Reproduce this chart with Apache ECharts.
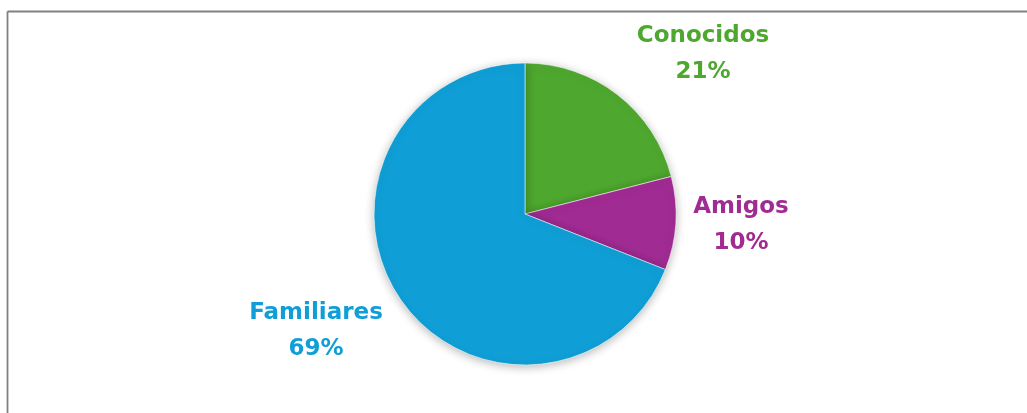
<!DOCTYPE html>
<html>
<head>
<meta charset="utf-8">
<style>
  html, body { margin: 0; padding: 0; background: #ffffff; }
  #chart { width: 1027px; height: 413px; }
</style>
<script src="https://cdn.jsdelivr.net/npm/echarts@6/dist/echarts.min.js"></script>
</head>
<body>
<div id="chart"></div>
<script>
// Share of contacts by relationship type
const categories = ['Conocidos', 'Amigos', 'Familiares'];
const shares = [21, 10, 69];
const colors = ['#4EA72E', '#A02B93', '#0F9ED5'];

// Where each label block sits (pixel centre), by slice order
const labelSpots = [[703, 54], [741, 225], [316, 331]];

const chart = echarts.init(document.getElementById('chart'), null, { renderer: 'canvas' });

chart.setOption({
  backgroundColor: '#ffffff',
  animation: false,
  graphic: [
    { type: 'line', shape: { x1: 7.5, y1: 11.5, x2: 1030, y2: 11.5 }, style: { stroke: '#808080', lineWidth: 1.8 } },
    { type: 'line', shape: { x1: 7.5, y1: 11.5, x2: 7.5, y2: 420 }, style: { stroke: '#808080', lineWidth: 1.8 } }
  ],
  series: [{
    type: 'pie',
    center: [525, 214],
    radius: [0, 151],
    startAngle: 90,
    clockwise: true,
    silent: true,
    data: categories.map((name, i) => ({
      name: name,
      value: shares[i],
      itemStyle: { color: colors[i] },
      label: { color: colors[i] }
    })),
    itemStyle: {
      borderColor: 'rgba(255,255,255,0.7)',
      borderWidth: 0.8,
      shadowBlur: 10,
      shadowColor: 'rgba(0,0,0,0.28)',
      shadowOffsetY: 2
    },
    label: {
      show: true,
      position: 'outside',
      formatter: p => p.name + '\n' + p.value + '%',
      fontFamily: '"DejaVu Sans", sans-serif',
      fontWeight: 'bold',
      fontSize: 23,
      lineHeight: 36,
      align: 'center'
    },
    labelLine: { show: false },
    labelLayout: params => ({
      x: labelSpots[params.dataIndex][0],
      y: labelSpots[params.dataIndex][1],
      align: 'center',
      verticalAlign: 'middle'
    })
  }]
});
</script>
</body>
</html>
